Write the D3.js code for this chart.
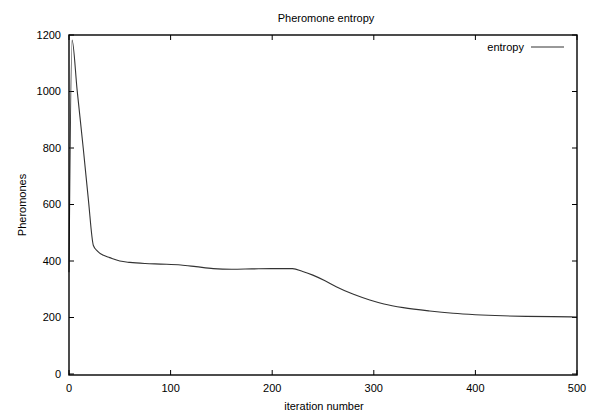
<!DOCTYPE html>
<meta charset="utf-8">
<script src="https://d3js.org/d3.v7.min.js"></script>
<body style="margin:0;background:#fff;">
<svg id="chart" width="597" height="414"></svg>
<script>

// data
var iterations = [0, 3, 8, 14, 19, 24, 28, 34, 40, 50, 60, 75, 90, 110, 125, 142, 160, 180, 200, 220, 230, 240, 252, 263, 280, 296, 310, 329, 355, 378, 400, 427, 450, 476, 500];
var entropy    = [360, 1182, 1005, 800, 620, 455, 435, 420, 412, 400, 395, 391, 389, 386, 380, 373, 371, 372, 373, 373, 363, 350, 330, 309, 282, 262, 248, 235, 223, 215, 210, 206, 204, 203, 202];
var xTicks = [0, 100, 200, 300, 400, 500];
var yTicks = [0, 200, 400, 600, 800, 1000, 1200];

var data = iterations.map(function(d, i) { return {it: d, v: entropy[i]}; });

var margin = {top: 35, right: 20, bottom: 39, left: 69};
var width = 597 - margin.left - margin.right,
    height = 414 - margin.top - margin.bottom;

var svg = d3.select("#chart");
var font = "'Liberation Sans', Arial, sans-serif";

var g = svg.append("g")
  .attr("transform", "translate(" + margin.left + "," + margin.top + ")");

var x = d3.scaleLinear().domain([0, 500]).range([0, width]);
var y = d3.scaleLinear().domain([0, 1200]).range([height - 1, 0]);

// inward ticks on all four sides (gnuplot style)
var tl = 5;
xTicks.forEach(function(t) {
  g.append("line").attr("x1", x(t)).attr("x2", x(t)).attr("y1", height).attr("y2", height - tl).attr("stroke", "#000");
  g.append("line").attr("x1", x(t)).attr("x2", x(t)).attr("y1", 0).attr("y2", tl).attr("stroke", "#000");
  g.append("text").attr("x", x(t)).attr("y", height + 17)
    .attr("text-anchor", "middle").style("font", "11px " + font).text(t);
});
yTicks.forEach(function(t) {
  g.append("line").attr("x1", 0).attr("x2", tl).attr("y1", y(t)).attr("y2", y(t)).attr("stroke", "#000");
  g.append("line").attr("x1", width).attr("x2", width - tl).attr("y1", y(t)).attr("y2", y(t)).attr("stroke", "#000");
  g.append("text").attr("x", -8).attr("y", y(t)).attr("dy", "0.35em")
    .attr("text-anchor", "end").style("font", "11px " + font).text(t);
});

// the curve
g.append("path")
  .datum(data)
  .attr("fill", "none")
  .attr("stroke", "#333")
  .attr("stroke-width", 1.1)
  .attr("d", d3.line()
    .curve(d3.curveMonotoneX)
    .x(function(d) { return x(d.it); })
    .y(function(d) { return y(d.v); }));

// frame
g.append("rect")
  .attr("width", width).attr("height", height)
  .attr("fill", "none").attr("stroke", "#000").attr("stroke-width", 1.4);

// legend
g.append("text").attr("x", width - 53).attr("y", 12).attr("dy", "0.35em")
  .attr("text-anchor", "end").style("font", "11px " + font).text("entropy");
g.append("line").attr("x1", width - 46).attr("x2", width - 13)
  .attr("y1", 12).attr("y2", 12).attr("stroke", "#333");

// title and axis labels
svg.append("text").attr("x", 326).attr("y", 22)
  .attr("text-anchor", "middle").style("font", "11px " + font).text("Pheromone entropy");
svg.append("text").attr("x", 324).attr("y", 410)
  .attr("text-anchor", "middle").style("font", "11px " + font).text("iteration number");
svg.append("text").attr("transform", "translate(26,205) rotate(-90)")
  .attr("text-anchor", "middle").style("font", "11px " + font).text("Pheromones");

</script>
